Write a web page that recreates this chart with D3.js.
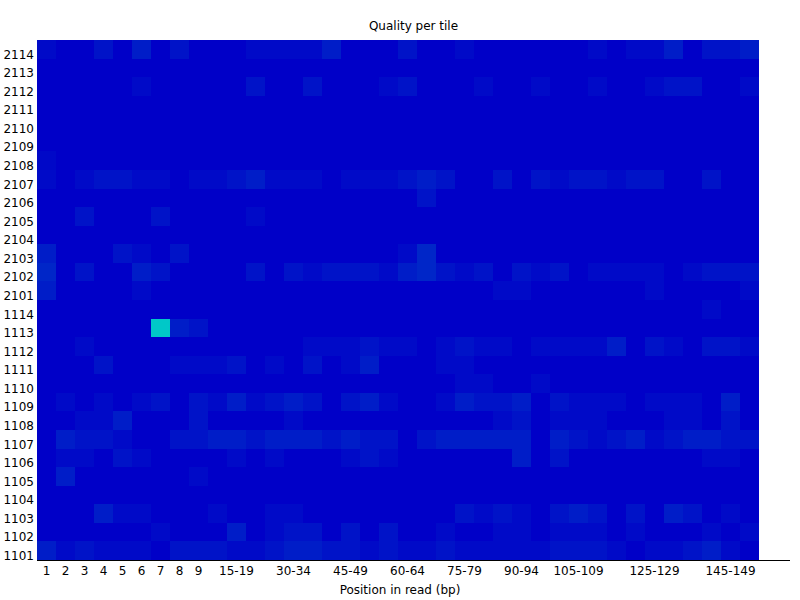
<!DOCTYPE html>
<html>
<head>
<meta charset="utf-8">
<script src="https://cdn.jsdelivr.net/npm/d3@7"></script>
<style>
    body { margin: 0; background: #fff; }
    text { font-family: "DejaVu Sans", sans-serif; font-size: 12px; fill: #000; }
</style>
</head>
<body>
<div id="chart"></div>
<script>
// tiles, top row first
var tiles = ["2114", "2113", "2112", "2111", "2110", "2109", "2108", "2107", "2106", "2105", "2104", "2103", "2102", "2101",
             "1114", "1113", "1112", "1111", "1110", "1109", "1108", "1107", "1106", "1105", "1104", "1103", "1102", "1101"];

// base positions in read
var positions = ["1", "2", "3", "4", "5", "6", "7", "8", "9",
    "10-14", "15-19", "20-24", "25-29", "30-34", "35-39", "40-44", "45-49", "50-54", "55-59", "60-64",
    "65-69", "70-74", "75-79", "80-84", "85-89", "90-94", "95-99", "100-104", "105-109", "110-114",
    "115-119", "120-124", "125-129", "130-134", "135-139", "140-144", "145-149", "150-151"];

// labels that fit under the axis
var tickLabels = ["1", "2", "3", "4", "5", "6", "7", "8", "9", "15-19", "30-34", "45-49", "60-64",
    "75-79", "90-94", "105-109", "125-129", "145-149"];

// deviation from mean quality, one row per tile (same order as tiles)
var quality = [
    [.12,0,0,.24,0,.36,0,.24,0,0,0,.12,.12,.12,.12,.36,0,0,0,.24,0,0,.12,0,0,0,0,0,0,.12,0,.12,.12,.36,0,.24,.24,.36],
    [0,0,0,0,0,0,0,0,0,0,0,0,0,0,0,0,0,0,0,0,0,0,0,0,0,0,0,0,0,0,0,0,0,0,0,0,0,0],
    [0,0,0,0,0,.12,0,0,0,0,0,.24,0,0,.24,0,0,0,.12,.24,0,0,0,.12,0,0,.12,0,0,.12,0,0,.12,.24,.24,0,0,.12],
    [0,0,0,0,0,0,0,0,0,0,0,0,0,0,0,0,0,0,0,0,0,0,0,0,0,0,0,0,0,0,0,0,0,0,0,0,0,0],
    [0,0,0,0,0,0,0,0,0,0,0,0,0,0,0,0,0,0,0,0,0,0,0,0,0,0,0,0,0,0,0,0,0,0,0,0,0,0],
    [0,0,0,0,0,0,0,0,0,0,0,0,0,0,0,0,0,0,0,0,0,0,0,0,0,0,0,0,0,0,0,0,0,0,0,0,0,0],
    [.1,0,0,0,0,0,0,0,0,0,0,0,0,0,0,0,0,0,0,0,0,0,0,0,0,0,0,0,0,0,0,0,0,0,0,0,0,0],
    [.12,0,.12,.24,.24,.12,.12,0,.12,.12,.24,.36,.12,.12,.12,0,.12,.12,.12,.24,.36,.24,0,0,.24,0,.24,.12,.24,.24,.12,.24,.24,0,0,.24,0,0],
    [0,0,0,0,0,0,0,0,0,0,0,0,0,0,0,0,0,0,0,0,.24,0,0,0,0,0,0,0,0,0,0,0,0,0,0,0,0,0],
    [0,0,.24,0,0,0,.24,0,0,0,0,.12,0,0,0,0,0,0,0,0,0,0,0,0,0,0,0,0,0,0,0,0,0,0,0,0,0,0],
    [0,0,0,0,0,0,0,0,0,0,0,0,0,0,0,0,0,0,0,0,0,0,0,0,0,0,0,0,0,0,0,0,0,0,0,0,0,0],
    [.36,0,0,0,.24,.12,0,.24,0,0,0,0,0,0,0,0,0,0,0,.12,.48,0,0,0,0,0,0,0,0,0,0,0,0,0,0,0,0,0],
    [.48,0,.24,0,0,.36,.24,0,0,0,0,.24,0,.24,.12,.24,.24,.24,.12,.36,.48,.24,.12,.24,0,.24,.12,.24,0,.12,.12,.12,.12,0,.12,.24,.24,.24],
    [.36,0,0,0,0,.12,0,0,0,0,0,0,0,0,0,0,0,0,0,0,0,0,0,0,.12,.12,0,0,0,0,0,0,.12,0,0,0,0,.12],
    [0,0,0,0,0,0,0,0,0,0,0,0,0,0,0,0,0,0,0,0,0,0,0,0,0,0,0,0,0,0,0,0,0,0,0,.12,0,0],
    [0,0,0,0,0,0,2.5,.36,.24,0,0,0,0,0,0,0,0,0,0,0,0,0,0,0,0,0,0,0,0,0,0,0,0,0,0,0,0,0],
    [0,0,.12,0,0,0,0,0,0,0,0,0,0,0,.12,.12,.12,.24,.12,.12,0,.12,.24,.12,.12,0,.12,.12,.12,.12,.36,0,.24,.12,0,.24,.24,.12],
    [0,0,0,.24,0,0,0,.12,.12,.12,.24,0,.12,0,.24,0,.12,.36,0,0,0,.12,.12,0,0,0,0,0,0,0,0,0,0,0,0,0,0,0],
    [0,0,0,0,0,0,0,0,0,0,0,0,0,0,0,0,0,0,0,0,0,0,.12,.12,0,0,.12,0,0,0,0,0,0,0,0,0,0,0],
    [0,.12,0,.12,0,.12,.24,0,.24,.12,.36,.12,.24,.36,.24,0,.24,.36,.12,0,0,.12,.36,.24,.24,.36,0,.24,.12,.12,.12,0,.12,.12,.12,0,.36,0],
    [0,0,.12,.12,.36,0,0,0,.24,0,0,0,0,.12,0,0,0,0,0,0,0,0,0,0,.12,.24,0,.12,.12,.12,0,0,0,.12,.12,0,.24,0],
    [0,.36,.24,.24,.12,0,0,.24,.24,.36,.36,.24,.36,.36,.36,.24,.36,.24,.24,0,.24,.36,.36,.36,.36,.36,0,.36,.24,.12,.24,.36,.12,.24,.36,.36,.24,.24],
    [0,.12,.12,0,.24,.12,0,0,0,0,.12,0,.12,0,0,0,.12,.24,.12,0,0,0,0,0,0,.36,0,.24,0,0,0,0,0,0,0,.12,.12,0],
    [0,.36,0,0,0,0,0,0,.12,0,0,0,0,0,0,0,0,0,0,0,0,0,0,0,0,0,0,0,0,0,0,0,0,0,0,0,0,0],
    [0,0,0,0,0,0,0,0,0,0,0,0,0,0,0,0,0,0,0,0,0,0,0,0,0,0,0,0,0,0,0,0,0,0,0,0,0,0],
    [0,0,0,.36,.12,.12,0,0,0,.12,0,0,.12,.12,0,0,0,0,0,0,0,0,.24,.12,.24,.12,0,.24,.36,.24,0,.24,0,.36,.24,0,.12,0],
    [0,0,0,0,0,0,.12,0,0,0,.36,0,.12,.24,.24,0,.24,0,.24,0,0,.12,0,0,.12,.12,0,.12,.12,.12,0,.12,0,0,0,.12,0,.12],
    [.36,.12,.24,.12,.12,.12,0,.24,.24,.24,.12,.12,.24,.36,.36,.24,.24,.12,.24,.12,.12,.24,.12,.12,.12,.12,.12,.24,.24,.24,.12,0,.12,.12,.24,.36,.12,0]
];

var width = 800, height = 600;
var margin = {top: 40, right: 10, bottom: 40, left: 37};

var svg = d3.select("#chart").append("svg")
    .attr("width", width)
    .attr("height", height);

// scales
var x = d3.scaleBand()
    .domain(positions)
    .range([margin.left, margin.left + 19 * positions.length]);

var y = d3.scaleBand()
    .domain(tiles)
    .range([margin.top, height - margin.bottom]);

// cold (blue) to hot (red) gradient
var colour = d3.scaleLinear()
    .domain([0, 2.5, 5, 7.5, 10])
    .range(["rgb(0,0,200)", "rgb(0,200,200)", "rgb(0,200,0)", "rgb(200,200,0)", "rgb(200,0,0)"])
    .clamp(true);

// flatten matrix into cells
var cells = [];
quality.forEach(function(row, t) {
    row.forEach(function(v, p) {
        cells.push({tile: tiles[t], pos: positions[p], value: v});
    });
});

svg.append("g").selectAll("rect")
    .data(cells)
    .enter().append("rect")
    .attr("x", function(d) { return x(d.pos); })
    .attr("y", function(d) { return y(d.tile); })
    .attr("width", x.bandwidth())
    .attr("height", y.bandwidth() + 0.5)
    .attr("shape-rendering", "crispEdges")
    .attr("fill", function(d) { return colour(d.value); });

// axes lines
svg.append("line")
    .attr("x1", margin.left).attr("x2", width - margin.right)
    .attr("y1", height - margin.bottom).attr("y2", height - margin.bottom)
    .attr("stroke", "#000")
    .attr("shape-rendering", "crispEdges");

// tile labels
svg.append("g").selectAll("text")
    .data(tiles)
    .enter().append("text")
    .attr("x", margin.left - 3)
    .attr("y", function(d) { return y(d) + y.bandwidth(); })
    .attr("text-anchor", "end")
    .text(function(d) { return d; });

// position labels
svg.append("g").selectAll("text")
    .data(tickLabels)
    .enter().append("text")
    .attr("x", function(d) { return x(d) + x.bandwidth() / 2; })
    .attr("y", height - margin.bottom + 15)
    .attr("text-anchor", "middle")
    .text(function(d) { return d; });

// titles
svg.append("text")
    .attr("x", margin.left + (width - margin.left - margin.right) / 2)
    .attr("y", 30)
    .attr("text-anchor", "middle")
    .text("Quality per tile");

svg.append("text")
    .attr("x", width / 2)
    .attr("y", height - 6)
    .attr("text-anchor", "middle")
    .text("Position in read (bp)");
</script>
</body>
</html>
